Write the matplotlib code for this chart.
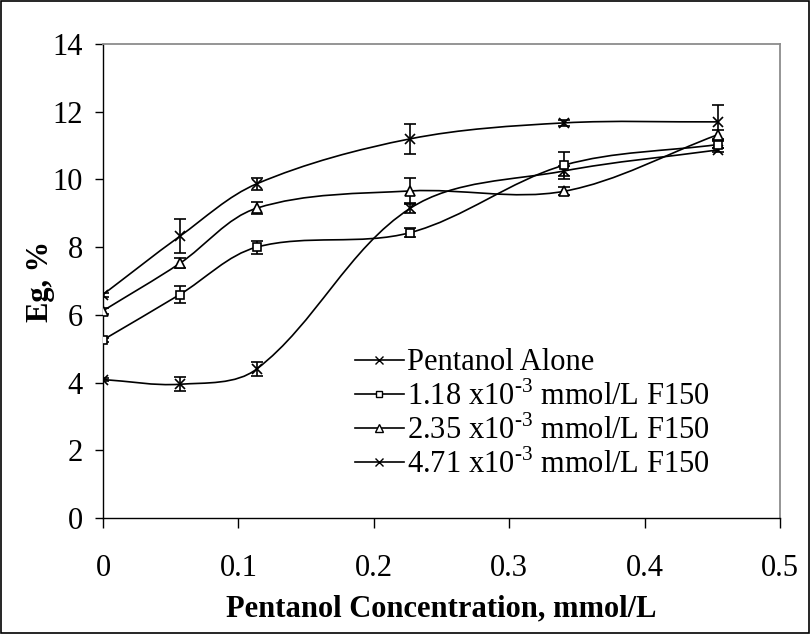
import matplotlib
matplotlib.use("Agg")
import matplotlib.pyplot as plt
import numpy as np
from matplotlib.path import Path
from matplotlib.patches import PathPatch, Rectangle
from matplotlib.lines import Line2D
from matplotlib.ticker import FuncFormatter, MultipleLocator

# Pentanol concentration, mmol/L
conc = [0.0, 0.0567, 0.1135, 0.227, 0.3405, 0.454]

# Eg, % for each series, with error bar half-widths
eg_alone = [4.09, 3.95, 4.40, 9.15, 10.25, 10.87]
err_alone = [0.05, 0.20, 0.20, 0.15, 0.15, 0.06]

eg_118 = [5.26, 6.60, 8.00, 8.43, 10.42, 11.03]
err_118 = [0.06, 0.24, 0.19, 0.13, 0.40, 0.10]

eg_235 = [6.12, 7.52, 9.15, 9.66, 9.65, 11.32]
err_235 = [0.08, 0.15, 0.17, 0.38, 0.12, 0.15]

eg_471 = [6.60, 8.32, 9.87, 11.20, 11.67, 11.70]
err_471 = [0.06, 0.50, 0.18, 0.45, 0.08, 0.50]

labels = ['Pentanol Alone',
          '1.18 x10$^{\\mathregular{\u20103}}$ mmol/L F150',
          '2.35 x10$^{\\mathregular{\u20103}}$ mmol/L F150',
          '4.71 x10$^{\\mathregular{\u20103}}$ mmol/L F150']
markers = ['x', 's', '^', 'x']
marker_sizes = [7.5, 6, 7, 7.5]

plt.rcParams['font.family'] = 'Liberation Serif'
plt.rcParams['mathtext.fontset'] = 'custom'
plt.rcParams['mathtext.rm'] = 'Liberation Serif'
FS = 22


def smooth_path(ax, xs, ys):
    """Smoothed Bezier path through the points, built in screen space so the
    tangents scale with the on-screen length of each segment."""
    pts = ax.transData.transform(np.column_stack([xs, ys]))
    n = len(pts)

    def tangent(i):
        a = pts[max(i - 1, 0)]
        b = pts[min(i + 1, n - 1)]
        d = b - a
        return d / np.hypot(*d)

    verts = [pts[0]]
    codes = [Path.MOVETO]
    for i in range(n - 1):
        p1, p2 = pts[i], pts[i + 1]
        seg = np.hypot(*(p2 - p1))
        c1 = p1 + tangent(i) * seg / 3.0
        c2 = p2 - tangent(i + 1) * seg / 3.0
        verts += [c1, c2, p2]
        codes += [Path.CURVE4] * 3
    verts = ax.transData.inverted().transform(np.array(verts))
    return Path(verts, codes)


fig = plt.figure(figsize=(8.11, 6.34), dpi=100)
ax = fig.add_axes([103 / 811, 1 - 518 / 634, 677 / 811, 474 / 634])
ax.set_xlim(0, 0.5)
ax.set_ylim(0, 14)

series = [(eg_alone, err_alone), (eg_118, err_118), (eg_235, err_235), (eg_471, err_471)]
handles = []
for (ys, es), lab, mk, ms in zip(series, labels, markers, marker_sizes):
    ax.add_patch(PathPatch(smooth_path(ax, conc, ys), fill=False, edgecolor='black',
                           linewidth=1.2, zorder=2))
    ax.errorbar(conc, ys, yerr=es, fmt=mk, color='black', ecolor='black',
                markersize=ms, markerfacecolor='white', markeredgecolor='black',
                markeredgewidth=1.2, elinewidth=1.2, capsize=4.5, capthick=1.2,
                zorder=3)
    handles.append(Line2D([], [], color='black', linewidth=1.2, marker=mk,
                          markersize=ms * 0.75, markerfacecolor='white',
                          markeredgecolor='black', markeredgewidth=1.0, label=lab))

ax.xaxis.set_major_locator(MultipleLocator(0.1))
ax.yaxis.set_major_locator(MultipleLocator(2))
ax.xaxis.set_major_formatter(FuncFormatter(lambda v, p: '%g' % round(v, 2)))
ax.yaxis.set_major_formatter(FuncFormatter(lambda v, p: '%g' % v))
ax.tick_params(direction='out', width=1, labelsize=FS)
ax.tick_params(axis='y', length=5.5, pad=9)
ax.tick_params(axis='x', length=7, pad=19)

for side in ['top', 'right']:
    ax.spines[side].set_color('#8c8c8c')
    ax.spines[side].set_linewidth(1.3)
for side in ['left', 'bottom']:
    ax.spines[side].set_color('black')
    ax.spines[side].set_linewidth(1.0)

ax.set_xlabel('Pentanol Concentration, mmol/L', fontsize=FS, fontweight='bold', labelpad=8)
ax.set_ylabel('Eg, %', fontsize=FS, fontweight='bold', labelpad=-2)

ax.legend(handles=handles, loc='lower left', bbox_to_anchor=(0.372, 0.08),
          frameon=False, fontsize=FS, handlelength=1.6, handletextpad=0.1,
          labelspacing=0.12, borderpad=0, borderaxespad=0)

# outer chart border
fig.patches.append(Rectangle((0.001, 0.001), 0.997, 0.997, transform=fig.transFigure,
                             fill=False, edgecolor='black', linewidth=1.2))

fig.savefig('out.png', dpi=100)
